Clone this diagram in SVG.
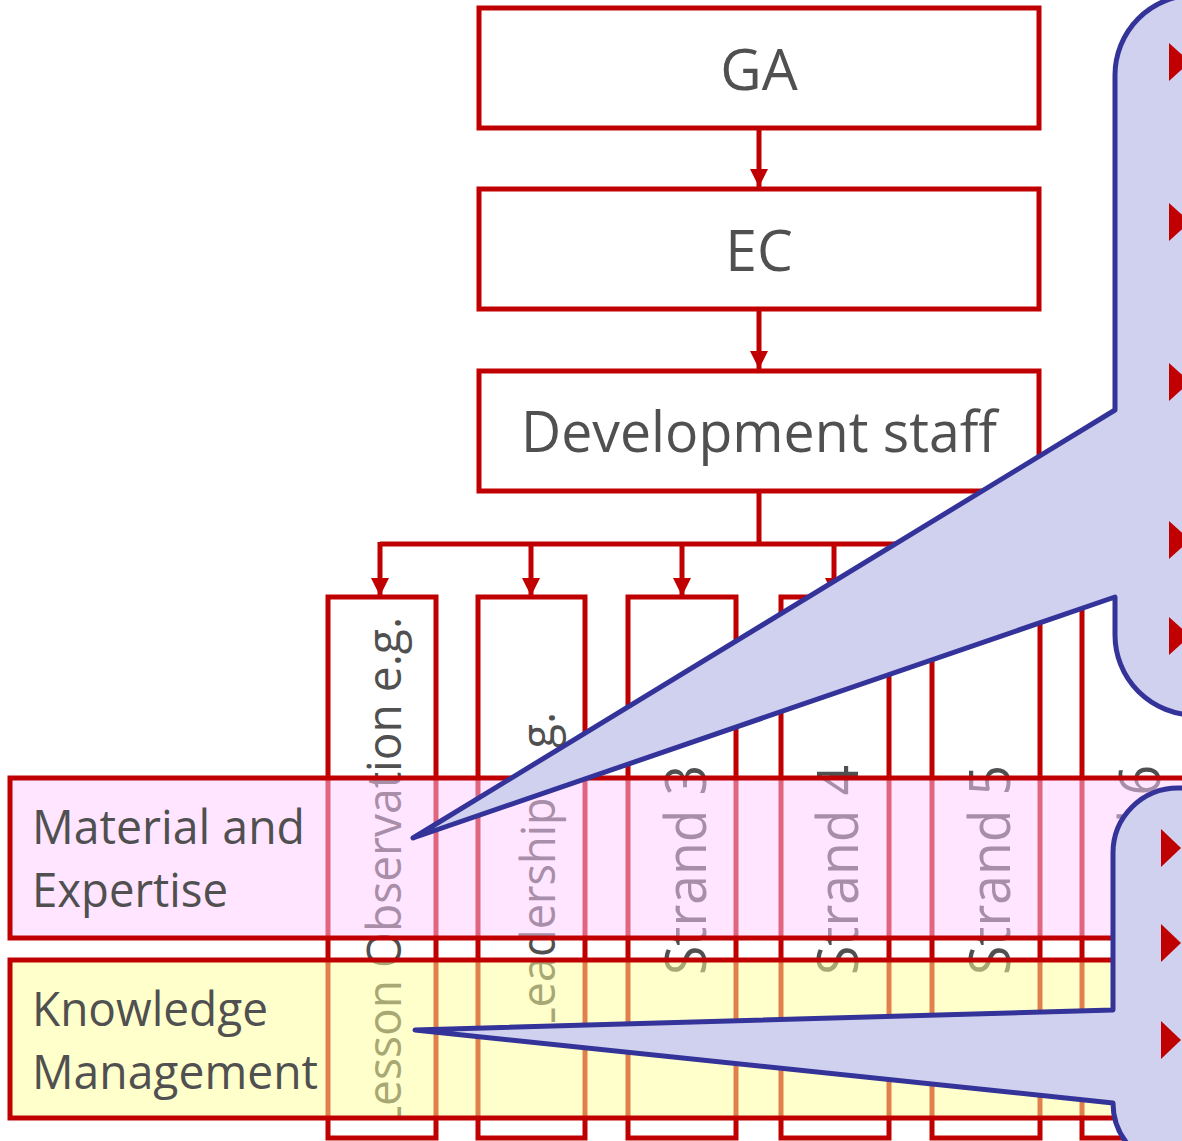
<svg xmlns="http://www.w3.org/2000/svg" width="1182" height="1141" viewBox="0 0 1182 1141">
<style>
.box{fill:#ffffff;stroke:#c00000;stroke-width:5}
.col{fill:#ffffff;stroke:#c00000;stroke-width:5}
.lbl{font-family:"Open Sans","Noto Sans",sans-serif;fill:#505050}
.big{font-size:57px;text-anchor:middle}
.vt{font-size:57px}
.vs{font-size:48px}
.bl{font-size:48px}
.conn{fill:none;stroke:#c00000;stroke-width:5}
.band{stroke:#c00000;stroke-width:5}
.call{fill:#d0d0ef;stroke:#333399;stroke-width:5;stroke-linejoin:round}
.tri{fill:#c00000}
</style>
<defs>
<marker id="ah" markerUnits="userSpaceOnUse" markerWidth="18" markerHeight="18" refX="18" refY="9" orient="auto" viewBox="0 0 18 18">
<path d="M0,0 L18,9 L0,18 Z" fill="#c00000"/>
</marker>
<clipPath id="clip1"><rect x="330" y="599" width="104" height="518"/></clipPath>
<clipPath id="clip2"><rect x="480" y="599" width="103" height="423"/></clipPath>
</defs>

<g id="node-ga">
<rect class="box" x="479" y="8" width="560" height="120"/>
<text class="lbl big" x="759" y="90">GA</text>
</g>
<g id="node-ec">
<rect class="box" x="479" y="189" width="560" height="120"/>
<text class="lbl big" x="759" y="271">EC</text>
</g>
<g id="node-dev">
<rect class="box" x="479" y="371" width="560" height="120"/>
<text class="lbl big" x="759" y="452" textLength="476" lengthAdjust="spacingAndGlyphs">Development staff</text>
</g>

<g id="connectors">
<path class="conn" d="M759,128 V187" marker-end="url(#ah)"/>
<path class="conn" d="M759,309 V369" marker-end="url(#ah)"/>
<path class="conn" d="M759,491 V544 M380,544 H1136"/>
<path class="conn" d="M380,542 V596" marker-end="url(#ah)"/>
<path class="conn" d="M531,542 V596" marker-end="url(#ah)"/>
<path class="conn" d="M682,542 V596" marker-end="url(#ah)"/>
<path class="conn" d="M834,542 V596" marker-end="url(#ah)"/>
<path class="conn" d="M986,542 V596" marker-end="url(#ah)"/>
<path class="conn" d="M1136,542 V596" marker-end="url(#ah)"/>
</g>

<g id="node-strand1">
<rect class="col" x="328" y="597" width="108" height="541"/>
<g clip-path="url(#clip1)">
<text class="lbl vs" transform="translate(401,1130) rotate(-90)" textLength="513" lengthAdjust="spacingAndGlyphs">Lesson Observation e.g.</text>
</g>
</g>
<g id="node-strand2">
<rect class="col" x="478" y="597" width="107" height="541"/>
<g clip-path="url(#clip2)">
<text class="lbl vs" transform="translate(555,1031) rotate(-90)" textLength="319" lengthAdjust="spacingAndGlyphs">Leadership e.g.</text>
</g>
</g>
<g id="node-strand3">
<rect class="col" x="628" y="597" width="108" height="541"/>
<text class="lbl vt" transform="translate(706,975) rotate(-90)" textLength="210" lengthAdjust="spacingAndGlyphs">Strand 3</text>
</g>
<g id="node-strand4">
<rect class="col" x="781" y="597" width="108" height="541"/>
<text class="lbl vt" transform="translate(858,975) rotate(-90)" textLength="210" lengthAdjust="spacingAndGlyphs">Strand 4</text>
</g>
<g id="node-strand5">
<rect class="col" x="932" y="597" width="108" height="541"/>
<text class="lbl vt" transform="translate(1010,975) rotate(-90)" textLength="210" lengthAdjust="spacingAndGlyphs">Strand 5</text>
</g>
<g id="node-strand6">
<rect class="col" x="1082" y="597" width="108" height="541"/>
<text class="lbl vt" transform="translate(1160,975) rotate(-90)" textLength="210" lengthAdjust="spacingAndGlyphs">Strand 6</text>
</g>

<g id="band-material">
<rect x="10" y="778" width="1200" height="160" fill="#ffccff" fill-opacity="0.5"/>
<rect class="band" x="10" y="778" width="1200" height="160" fill="none"/>
<text class="lbl bl" x="32" y="844" textLength="273" lengthAdjust="spacingAndGlyphs">Material and</text>
<text class="lbl bl" x="32" y="907" textLength="196" lengthAdjust="spacingAndGlyphs">Expertise</text>
</g>
<g id="band-knowledge">
<rect x="10" y="960" width="1200" height="158" fill="#ffff99" fill-opacity="0.5"/>
<rect class="band" x="10" y="960" width="1200" height="158" fill="none"/>
<text class="lbl bl" x="32" y="1026" textLength="236" lengthAdjust="spacingAndGlyphs">Knowledge</text>
<text class="lbl bl" x="32" y="1089" textLength="286" lengthAdjust="spacingAndGlyphs">Management</text>
</g>

<g id="callout-upper">
<path class="call" d="M1240,-5 H1195 A80,80 0 0 0 1115,75 V410 L413,838 L1115,597 V635 A80,80 0 0 0 1195,715 H1240 Z"/>
<polygon class="tri" points="1169,43 1169,81 1190,62"/>
<polygon class="tri" points="1169,203 1169,241 1190,222"/>
<polygon class="tri" points="1169,363 1169,401 1190,382"/>
<polygon class="tri" points="1169,521 1169,559 1190,540"/>
<polygon class="tri" points="1169,617 1169,655 1190,636"/>
</g>
<g id="callout-lower">
<path class="call" d="M1240,788 H1178 A65,65 0 0 0 1113,853 V1010 L415,1030 L1113,1103 A65,65 0 0 0 1178,1168 H1240 Z"/>
<polygon class="tri" points="1161,829 1161,867 1181,848"/>
<polygon class="tri" points="1161,924 1161,962 1181,943"/>
<polygon class="tri" points="1161,1021 1161,1059 1181,1040"/>
</g>
</svg>
